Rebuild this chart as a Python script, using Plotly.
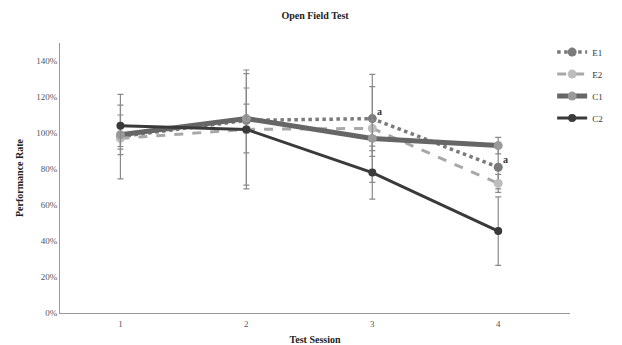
import plotly.graph_objects as go

sessions = [1, 2, 3, 4]
series_names = ["E1", "E2", "C1", "C2"]
E1 = [98, 107, 108, 81]
E2 = [97, 102, 102.6, 72]
C1 = [99, 108, 97, 93]
C2 = [104, 102, 78, 45.5]
E1_err = [23.5, 18, 17.8, 12]
E2_err = [6, 31, 30, 5]
C1_err = [11, 8, 10, 4.6]
C2_err = [11.5, 33, 14.7, 19]
y_ticks = [0, 20, 40, 60, 80, 100, 120, 140]
annot_points = [(3, 108, "a"), (4, 81, "a")]

font = "Liberation Serif"
fig = go.Figure()

styles = {
    "E1": dict(line=dict(color="#7a7a7a", width=3.5, dash="dot"), marker=dict(color="#7a7a7a", size=9)),
    "E2": dict(line=dict(color="#a8a8a8", width=3, dash="dash"), marker=dict(color="#bdbdbd", size=9)),
    "C1": dict(line=dict(color="#666666", width=5), marker=dict(color="#9a9a9a", size=9)),
    "C2": dict(line=dict(color="#3a3a3a", width=3), marker=dict(color="#3a3a3a", size=8)),
}
data = {"E1": (E1, E1_err), "E2": (E2, E2_err), "C1": (C1, C1_err), "C2": (C2, C2_err)}

for name in series_names:
    vals, errs = data[name]
    st = styles[name]
    fig.add_trace(go.Scatter(
        x=sessions, y=vals, name=name, mode="lines+markers",
        line=st["line"], marker=st["marker"], legendgroup=name,
        error_y=dict(type="data", array=errs, visible=True, color="#8a8a8a", thickness=1.2, width=3),
    ))

for (xv, yv, t) in annot_points:
    fig.add_annotation(x=xv, y=yv, text="<b>%s</b>" % t, showarrow=False,
                       xanchor="left", yanchor="bottom", xshift=3, yshift=0,
                       font=dict(family=font, size=10, color="#333"))

fig.update_layout(
    width=622, height=345,
    margin=dict(l=60, r=52, t=43, b=32, autoexpand=False),
    paper_bgcolor="white", plot_bgcolor="white",
    title=dict(text="<b>Open Field Test</b>", x=0.5, xref="paper", y=0.955, yanchor="middle",
               font=dict(family=font, size=10, color="#222")),
    font=dict(family=font, size=9, color="#555"),
    showlegend=True,
    legend=dict(x=0.965, xanchor="left", y=1.02, yanchor="top", bgcolor="rgba(0,0,0,0)",
                font=dict(family=font, size=9, color="#333"), tracegroupgap=3, itemwidth=30),
    xaxis=dict(range=[0.52, 4.57], tickvals=sessions, ticktext=[str(s) for s in sessions],
               showline=True, linecolor="#999", linewidth=1, showgrid=False, zeroline=False,
               automargin=False, ticks="outside", ticklen=2, tickcolor="rgba(0,0,0,0)",
               title=dict(text="<b>Test Session</b>", standoff=10,
                          font=dict(family=font, size=10, color="#222"))),
    yaxis=dict(range=[0, 150], tickvals=y_ticks, ticktext=["%d%%" % v for v in y_ticks],
               showline=True, linecolor="#999", linewidth=1, showgrid=False, zeroline=False,
               automargin=False, ticks="",
               title=dict(text="<b>Performance Rate</b>", standoff=10,
                          font=dict(family=font, size=10, color="#222"))),
)

fig.write_html("out.html", config={"displayModeBar": False},
               post_script="document.body.style.margin='0';")
